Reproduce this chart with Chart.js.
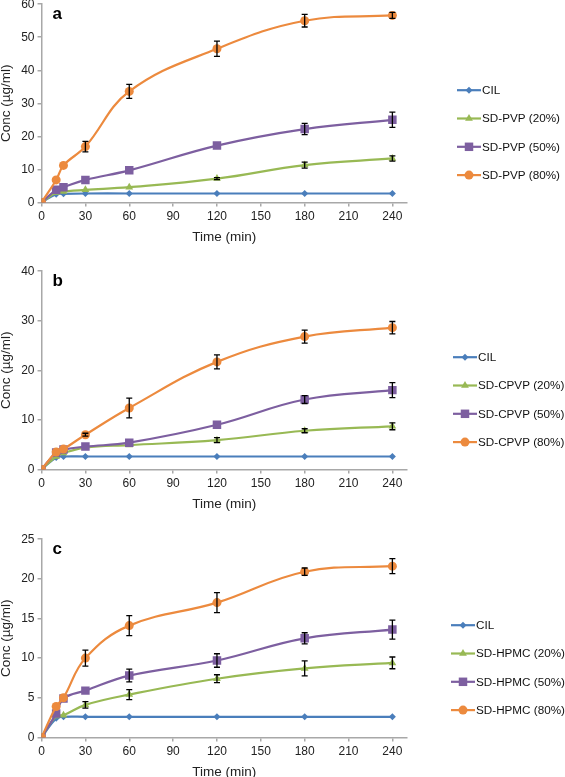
<!DOCTYPE html>
<html>
<head>
<meta charset="utf-8">
<script src="https://cdn.jsdelivr.net/npm/chart.js@4/dist/chart.umd.min.js"></script>
<style>
  html, body { margin: 0; padding: 0; background: #fff; }
  body { width: 565px; height: 777px; position: relative; overflow: hidden; }
  .panel { position: absolute; left: 0; width: 565px; height: 255px; }
</style>
</head>
<body>
<div class="panel" style="top:-6px"><canvas id="chart-a"></canvas></div>
<div class="panel" style="top:261px"><canvas id="chart-b"></canvas></div>
<div class="panel" style="top:529px"><canvas id="chart-c"></canvas></div>
<script>
const TIMES = [0, 10, 15, 30, 60, 120, 180, 240];
const X_TICKS = [0, 30, 60, 90, 120, 150, 180, 210, 240];

// panel a
const A_LABELS  = ['CIL', 'SD-PVP (20%)', 'SD-PVP (50%)', 'SD-PVP (80%)'];
const A_CIL     = [0, 2.5, 2.6, 2.7, 2.7, 2.7, 2.7, 2.7];
const A_PVP20   = [0, 3.0, 3.3, 3.8, 4.6, 7.2, 11.3, 13.3];
const A_PVP50   = [0, 3.8, 4.6, 6.8, 9.7, 17.2, 22.2, 25.0];
const A_PVP80   = [0, 6.8, 11.2, 16.9, 33.6, 46.5, 55.0, 56.6];
const A_CIL_ERR   = [0, 0, 0, 0, 0, 0, 0, 0];
const A_PVP20_ERR = [0, 0, 0, 0, 0, 0.3, 0.9, 0.8];
const A_PVP50_ERR = [0, 0, 0, 0, 0, 0, 1.7, 2.3];
const A_PVP80_ERR = [0, 0, 0, 1.6, 2.1, 2.3, 1.9, 0.9];

// panel b
const B_LABELS   = ['CIL', 'SD-CPVP (20%)', 'SD-CPVP (50%)', 'SD-CPVP (80%)'];
const B_CIL      = [0, 2.4, 2.6, 2.6, 2.6, 2.6, 2.6, 2.6];
const B_CPVP20   = [0, 2.6, 3.3, 4.4, 4.9, 5.9, 7.8, 8.7];
const B_CPVP50   = [0, 3.4, 4.0, 4.6, 5.4, 9.0, 14.1, 16.0];
const B_CPVP80   = [0, 3.5, 4.1, 7.0, 12.4, 21.7, 26.8, 28.6];
const B_CIL_ERR    = [0, 0, 0, 0, 0, 0, 0, 0];
const B_CPVP20_ERR = [0, 0, 0, 0, 0, 0.5, 0.4, 0.7];
const B_CPVP50_ERR = [0, 0, 0, 0, 0, 0, 0.8, 1.5];
const B_CPVP80_ERR = [0, 0, 0, 0.3, 2.0, 1.4, 1.3, 1.25];

// panel c
const C_LABELS   = ['CIL', 'SD-HPMC (20%)', 'SD-HPMC (50%)', 'SD-HPMC (80%)'];
const C_CIL      = [0, 2.4, 2.6, 2.6, 2.6, 2.6, 2.6, 2.6];
const C_HPMC20   = [0, 2.7, 2.8, 4.1, 5.4, 7.4, 8.7, 9.4];
const C_HPMC50   = [0, 3.0, 4.9, 5.9, 7.8, 9.7, 12.5, 13.6];
const C_HPMC80   = [0, 3.9, 5.0, 10.0, 14.1, 17.0, 20.9, 21.6];
const C_CIL_ERR    = [0, 0, 0, 0, 0, 0, 0, 0];
const C_HPMC20_ERR = [0, 0, 0, 0.4, 0.63, 0.5, 0.95, 0.74];
const C_HPMC50_ERR = [0, 0, 0, 0, 0.8, 0.85, 0.7, 1.2];
const C_HPMC80_ERR = [0, 0, 0, 1.0, 1.25, 1.25, 0.47, 0.95];

const COLORS  = ['#4a7ebb', '#98b954', '#7d5fa0', '#ec8a3e'];
const MARKERS = ['rectRot', 'triangle', 'rect', 'circle'];
const RADII   = [3.5, 4.5, 6, 4.5];
const FONT = 'Liberation Sans, Arial, Helvetica, sans-serif';
const AXIS_GRAY = '#a8a8a8';

// black error bars on top of the series
const errorBars = {
  id: 'errorBars',
  afterDatasetsDraw(chart) {
    const ctx = chart.ctx;
    const ys = chart.scales.y;
    ctx.save();
    ctx.strokeStyle = '#000';
    ctx.lineWidth = 1.3;
    chart.data.datasets.forEach((ds, i) => {
      const meta = chart.getDatasetMeta(i);
      ds.errors.forEach((e, j) => {
        if (!e) return;
        const x = meta.data[j].x;
        const top = ys.getPixelForValue(ds.data[j].y + e);
        const bot = ys.getPixelForValue(ds.data[j].y - e);
        ctx.beginPath();
        ctx.moveTo(x, top); ctx.lineTo(x, bot);
        ctx.moveTo(x - 3, top); ctx.lineTo(x + 3, top);
        ctx.moveTo(x - 3, bot); ctx.lineTo(x + 3, bot);
        ctx.stroke();
      });
    });
    ctx.restore();
  }
};

// panel letter and the legend at the right of the plot
const sideLegend = {
  id: 'sideLegend',
  afterDraw(chart, args, opts) {
    const ctx = chart.ctx;
    const area = chart.chartArea;
    ctx.save();
    ctx.fillStyle = '#000';
    ctx.font = 'bold 17px ' + FONT;
    ctx.textBaseline = 'alphabetic';
    ctx.fillText(opts.letter, area.left + 11, area.top + 15);

    ctx.font = '11.7px ' + FONT;
    ctx.textBaseline = 'middle';
    chart.data.datasets.forEach((ds, i) => {
      const y = area.top + 86 + i * 28.3;
      const x0 = opts.x;
      ctx.strokeStyle = ds.borderColor;
      ctx.lineWidth = 2.2;
      ctx.beginPath();
      ctx.moveTo(x0, y); ctx.lineTo(x0 + 24, y);
      ctx.stroke();
      ctx.fillStyle = ds.borderColor;
      Chart.helpers.drawPoint(ctx, { pointStyle: ds.pointStyle, radius: ds.pointRadius, rotation: 0, borderWidth: 0 }, x0 + 12, y);
      ctx.fillStyle = '#111';
      ctx.fillText(ds.label, x0 + 25, y + 0.5);
    });
    ctx.restore();
  }
};

function makePanel(id, letter, legendX, yMax, yStep, labels, series, errs) {
  const datasets = series.map((vals, i) => ({
    label: labels[i],
    data: TIMES.map((t, j) => ({ x: t, y: vals[j] })),
    errors: errs[i],
    borderColor: COLORS[i],
    backgroundColor: COLORS[i],
    borderWidth: 2.2,
    pointStyle: MARKERS[i],
    pointRadius: RADII[i],
    pointBorderWidth: 0,
    tension: 0.4,
    order: 3 - i,
  }));

  new Chart(document.getElementById(id), {
    type: 'line',
    data: { datasets },
    plugins: [errorBars, sideLegend],
    options: {
      responsive: true,
      maintainAspectRatio: false,
      animation: false,
      layout: { padding: { left: -2, right: 158, top: 0, bottom: 0 } },
      plugins: {
        legend: { display: false },
        tooltip: { enabled: false },
        sideLegend: { letter, x: legendX },
      },
      scales: {
        x: {
          type: 'linear',
          min: 0,
          max: 250,
          afterBuildTicks: s => { s.ticks = X_TICKS.map(v => ({ value: v })); },
          border: { color: AXIS_GRAY, width: 1.5 },
          grid: { drawOnChartArea: false, color: AXIS_GRAY, tickLength: 4, lineWidth: 1.5 },
          ticks: { color: '#222', font: { family: FONT, size: 12 }, padding: 3, maxRotation: 0 },
          title: { display: true, text: 'Time (min)', color: '#222', font: { family: FONT, size: 13.5 }, padding: { top: 2, bottom: 4 } },
        },
        y: {
          min: 0,
          max: yMax,
          border: { color: AXIS_GRAY, width: 1.5 },
          grid: { drawOnChartArea: false, color: AXIS_GRAY, tickLength: 4, lineWidth: 1.5 },
          ticks: { stepSize: yStep, color: '#222', font: { family: FONT, size: 12 }, padding: 3 },
          title: { display: true, text: 'Conc (µg/ml)', color: '#222', font: { family: FONT, size: 13.5 }, padding: { top: 0, bottom: 4 } },
        },
      },
    },
  });
}

makePanel('chart-a', 'a', 457, 60, 10, A_LABELS,
  [A_CIL, A_PVP20, A_PVP50, A_PVP80],
  [A_CIL_ERR, A_PVP20_ERR, A_PVP50_ERR, A_PVP80_ERR]);

makePanel('chart-b', 'b', 453, 40, 10, B_LABELS,
  [B_CIL, B_CPVP20, B_CPVP50, B_CPVP80],
  [B_CIL_ERR, B_CPVP20_ERR, B_CPVP50_ERR, B_CPVP80_ERR]);

makePanel('chart-c', 'c', 451, 25, 5, C_LABELS,
  [C_CIL, C_HPMC20, C_HPMC50, C_HPMC80],
  [C_CIL_ERR, C_HPMC20_ERR, C_HPMC50_ERR, C_HPMC80_ERR]);
</script>
</body>
</html>
